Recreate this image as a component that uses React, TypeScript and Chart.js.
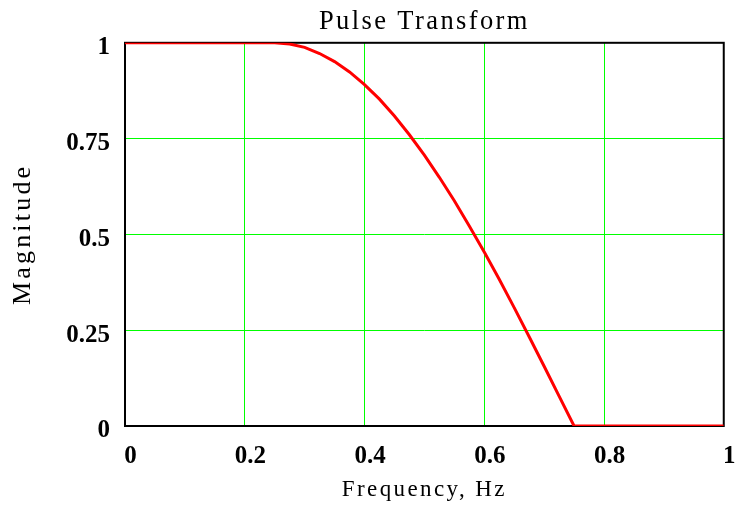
import React, { useEffect, useRef } from "react";
import { Chart, registerables } from "chart.js";

Chart.register(...registerables);

const chartTitle = "Pulse Transform";
const xAxisTitle = "Frequency, Hz";
const yAxisTitle = "Magnitude";

const frequencies = [
  0, 0.05, 0.1, 0.15, 0.2, 0.25, 0.275, 0.3, 0.325, 0.35, 0.375, 0.4, 0.425,
  0.45, 0.475, 0.5, 0.525, 0.55, 0.575, 0.6, 0.625, 0.65, 0.675, 0.7, 0.725,
  0.75, 0.8, 0.85, 0.9, 0.95, 1,
];
const magnitudes = [
  1, 1, 1, 1, 1, 1, 0.997, 0.988, 0.972, 0.951, 0.924, 0.891, 0.853, 0.809,
  0.76, 0.707, 0.649, 0.588, 0.522, 0.454, 0.383, 0.309, 0.233, 0.156, 0.078,
  0, 0, 0, 0, 0, 0,
];

const xTickValues = [0, 0.2, 0.4, 0.6, 0.8, 1];
const yTickValues = [0, 0.25, 0.5, 0.75, 1];

const SERIF = "'Liberation Serif', 'Times New Roman', serif";

export default function App() {
  const canvasRef = useRef<HTMLCanvasElement | null>(null);

  useEffect(() => {
    document.body.style.margin = "0";
    const canvas = canvasRef.current;
    if (!canvas) return;

    const framePlugin = {
      id: "frameAndSpacing",
      beforeDraw(chart: any) {
        (chart.ctx as any).letterSpacing = "2.4px";
      },
      beforeDatasetsDraw(chart: any) {
        const ctx = chart.ctx;
        const a = chart.chartArea;
        ctx.save();
        ctx.strokeStyle = "#000000";
        ctx.lineWidth = 2;
        ctx.strokeRect(a.left, a.top, a.right - a.left, a.bottom - a.top);
        ctx.restore();
        (ctx as any).letterSpacing = "0px";
      },
    };

    const chart = new Chart(canvas, {
      type: "line",
      data: {
        datasets: [
          {
            data: frequencies.map((f, i) => ({ x: f, y: magnitudes[i] })),
            borderColor: "#ff0000",
            borderWidth: 3,
            pointRadius: 0,
            fill: false,
            tension: 0,
          },
        ],
      },
      options: {
        responsive: false,
        animation: false,
        devicePixelRatio: 1,
        layout: { padding: { left: 0, right: 21, top: 0, bottom: 0 } },
        plugins: {
          legend: { display: false },
          tooltip: { enabled: false },
          title: {
            display: true,
            text: chartTitle,
            fullSize: false,
            color: "#000000",
            font: { family: SERIF, size: 26.5, weight: "normal" },
            padding: { top: 6, bottom: 5 },
          },
        },
        scales: {
          x: {
            type: "linear",
            min: 0,
            max: 1,
            afterBuildTicks: (scale: any) => {
              scale.ticks = xTickValues.map((v) => ({ value: v }));
            },
            afterFit: (scale: any) => {
              scale.height = 82;
            },
            grid: {
              z: -1,
              color: (c: any) => {
                (c.chart.ctx as any).letterSpacing = "2.4px";
                return "#00ff00";
              },
              lineWidth: 1,
              drawTicks: false,
            },
            border: { display: false },
            ticks: {
              z: 1,
              padding: 16,
              labelOffset: 5.5,
              color: "#000000",
              maxRotation: 0,
              font: { family: SERIF, size: 25, weight: "bold" },
              callback: (v: any) => String(v),
            },
            title: {
              display: true,
              text: xAxisTitle,
              color: "#000000",
              font: { family: SERIF, size: 23, weight: "normal" },
              padding: { top: 0, bottom: 4 },
            },
          },
          y: {
            type: "linear",
            min: 0,
            max: 1,
            afterBuildTicks: (scale: any) => {
              scale.ticks = yTickValues.map((v) => ({ value: v }));
            },
            afterFit: (scale: any) => {
              scale.width = 125;
            },
            grid: {
              z: -2,
              color: (c: any) => {
                (c.chart.ctx as any).letterSpacing = "3.2px";
                return "#00ff00";
              },
              lineWidth: 1,
              drawTicks: false,
            },
            border: { display: false },
            ticks: {
              z: 1,
              padding: 15,
              labelOffset: 5,
              color: "#000000",
              font: { family: SERIF, size: 25, weight: "bold" },
              callback: (v: any) => String(v),
            },
            title: {
              display: true,
              text: yAxisTitle,
              color: "#000000",
              font: { family: SERIF, size: 26, weight: "normal" },
              padding: { top: 8, bottom: 0 },
            },
          },
        },
      },
      plugins: [framePlugin],
    } as any);

    return () => {
      chart.destroy();
    };
  }, []);

  return (
    <div style={{ position: "absolute", left: 0, top: 0, width: 746, height: 508, background: "#ffffff" }}>
      <canvas ref={canvasRef} width={746} height={508} style={{ width: 746, height: 508, display: "block" }} />
    </div>
  );
}
